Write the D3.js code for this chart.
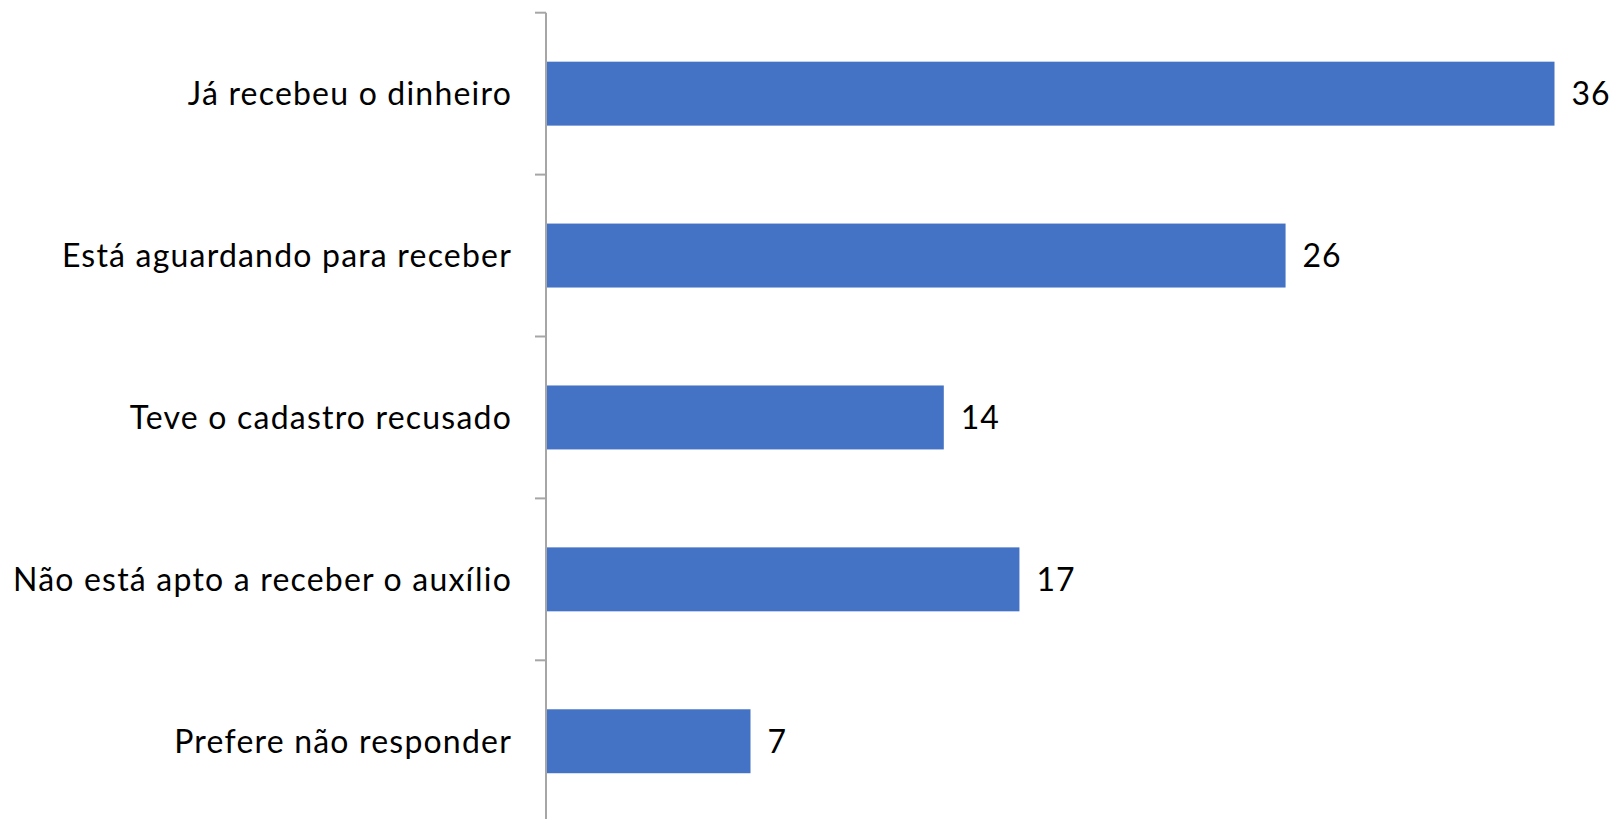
<!DOCTYPE html>
<html>
<head>
<meta charset="utf-8">
<script src="https://cdn.jsdelivr.net/npm/d3@7"></script>
<style>
  html, body { margin: 0; padding: 0; background: #ffffff; }
  svg { display: block; }
  text { font-family: Lato, "Open Sans", sans-serif; fill: #000; }
</style>
</head>
<body>
<svg id="chart" width="1614" height="819"></svg>
<script>
const categories = [
  "Já recebeu o dinheiro",
  "Está aguardando para receber",
  "Teve o cadastro recusado",
  "Não está apto a receber o auxílio",
  "Prefere não responder"
];
const values = [36.0, 26.4, 14.2, 16.9, 7.3];
const valueLabels = ["36", "26", "14", "17", "7"];

const svg = d3.select("#chart");
const margin = { top: 12.7, left: 546, right: 0 };
const bandStep = 161.9;
const plotH = bandStep * categories.length;

const y = d3.scaleBand()
  .domain(categories)
  .range([margin.top, margin.top + plotH])
  .paddingInner(0.605)
  .paddingOuter(0.3025);

const x = d3.scaleLinear()
  .domain([0, 36])
  .range([margin.left, margin.left + 1008.5]);

// bars
svg.append("g")
  .selectAll("rect")
  .data(categories)
  .join("rect")
  .attr("x", x(0))
  .attr("y", d => y(d))
  .attr("width", (d, i) => x(values[i]) - x(0))
  .attr("height", y.bandwidth())
  .attr("fill", "#4472c4");

// axis
const axis = d3.axisLeft(y).tickSize(0).tickFormat("");
const gAxis = svg.append("g")
  .attr("transform", `translate(${margin.left},0)`)
  .call(axis);
gAxis.select(".domain").attr("stroke", "#a6a6a6").attr("stroke-width", 2)
  .attr("d", `M0,${margin.top}V${margin.top + plotH}`);

// tick marks at band boundaries
const boundaries = d3.range(categories.length + 1).map(i => margin.top + i * bandStep);
svg.append("g")
  .selectAll("line")
  .data(boundaries)
  .join("line")
  .attr("x1", margin.left - 11)
  .attr("x2", margin.left)
  .attr("y1", d => d)
  .attr("y2", d => d)
  .attr("stroke", "#a6a6a6")
  .attr("stroke-width", 2);

// category labels
svg.append("g")
  .selectAll("text")
  .data(categories)
  .join("text")
  .attr("x", margin.left - 34)
  .attr("y", d => y(d) + y.bandwidth() / 2)
  .attr("dy", "0.36em")
  .attr("text-anchor", "end")
  .attr("font-size", 32)
  .attr("letter-spacing", "1.2px")
  .text(d => d);

// value labels
svg.append("g")
  .selectAll("text")
  .data(categories)
  .join("text")
  .attr("x", (d, i) => x(values[i]) + 17)
  .attr("y", d => y(d) + y.bandwidth() / 2)
  .attr("dy", "0.36em")
  .attr("font-size", 32)
  .attr("letter-spacing", "1px")
  .text((d, i) => valueLabels[i]);
</script>
</body>
</html>
